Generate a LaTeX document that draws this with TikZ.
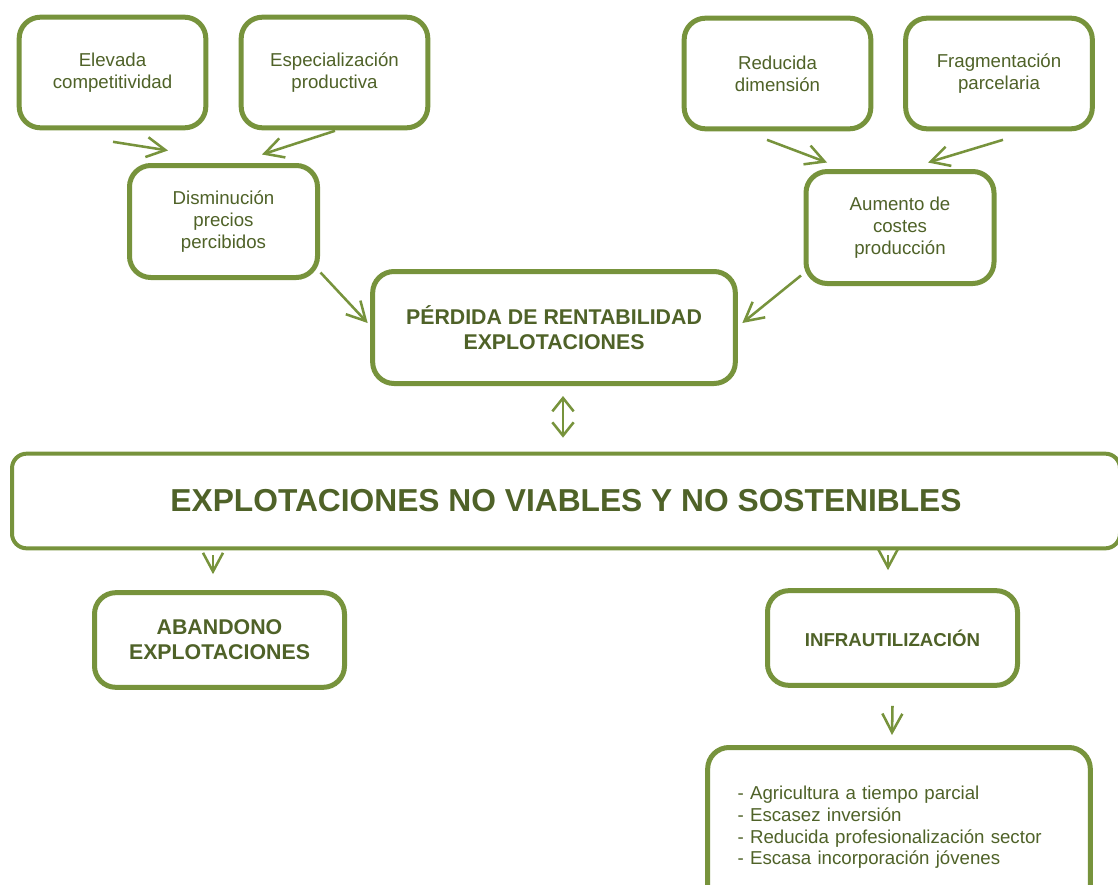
\documentclass[tikz,border=0pt]{standalone}
\usepackage{fontspec}
\setmainfont{Liberation Sans}
\usetikzlibrary{arrows.meta}
\usetikzlibrary{calc}

\definecolor{oliveline}{HTML}{77933C}
\definecolor{olivetext}{HTML}{4F6228}

\begin{document}
\begin{tikzpicture}[x=0.75pt, y=-0.75pt]
    \tikzstyle{box}=[draw=oliveline, line width=3.75pt, rounded corners=16pt, fill=white,
      text=olivetext, align=center, inner sep=2pt]
    \tikzstyle{small}=[box, minimum width=140pt, minimum height=83pt, font=\fontsize{14}{16.5}\selectfont,
      execute at begin node={\rule{0pt}{15pt}}]
    \tikzstyle{big}=[box, font=\fontsize{16}{18.75}\selectfont\bfseries]
    \tikzstyle{arr}=[draw=oliveline, line width=1.9pt, -{Straight Barb[length=14pt, width=15pt]}]
    \useasboundingbox (0,0) rectangle (1118,885);
    % causes
    \node[small] (elev) at (112.5,72.5) {Elevada\\competitividad};
    \node[small] (espec) at (334.5,72.5) {Especialización\\productiva};
    \node[small] (reduc) at (777.5,73.5) {Reducida\\dimensión};
    \node[small] (frag) at (999,73.5) {Fragmentación\\parcelaria};
    \node[small, minimum height=84pt, minimum width=141pt] (dismin) at (223.5,221.5) {Disminución\\precios\\percibidos};
    \node[small, minimum height=84pt, minimum width=141pt] (aumento) at (900,227.5) {Aumento de\\costes\\producción};
    \node[big, minimum width=272pt, minimum height=84pt] (perdida) at (554,327.5) {PÉRDIDA DE RENTABILIDAD\\EXPLOTACIONES};
    % central box
    \node[box, line width=3pt, rounded corners=11pt, minimum width=831pt, minimum height=71pt,
      font=\fontsize{23.8}{28}\selectfont\bfseries] (noviable) at (566,501) {EXPLOTACIONES NO VIABLES Y NO SOSTENIBLES};
    % effects
    \node[big, minimum width=187.5pt, minimum height=71pt] (aband) at (219.5,640) {ABANDONO\\EXPLOTACIONES};
    \node[big, minimum width=187.5pt, minimum height=71pt, font=\fontsize{14}{16.5}\selectfont\bfseries] (infra) at (892.5,638) {INFRAUTILIZACIÓN};
    \node[box, minimum width=287pt, minimum height=120pt, text width=242pt, align=left,
      font=\fontsize{14}{16.3}\selectfont] (lista) at (899,827.5)
      {- Agricultura a tiempo parcial\\- Escasez inversión\\- Reducida profesionalización sector\\- Escasa incorporación jóvenes};
    % arrows
    \draw[arr] ($(elev.south)+(0.5,11.5)$) -- ($(dismin.north)+(-55.5,-12.5)$);
    \draw[arr] ($(espec.south)+(0.5,0.5)$) -- ($(dismin.north)+(38.5,-8.5)$);
    \draw[arr] ($(reduc.south)+(-10.5,8.5)$) -- ($(aumento.north)+(-73,-6.5)$);
    \draw[arr] ($(frag.south)+(4,8.5)$) -- ($(aumento.north)+(28,-6.5)$);
    \draw[arr] ($(dismin.south east)+(0.5,-7.5)$) -- ($(perdida.west)+(-2.5,-4.5)$);
    \draw[arr] ($(aumento.south west)+(-2.5,-10.5)$) -- ($(perdida.east)+(4.5,-4.5)$);
    \draw[arr, {Straight Barb[length=10pt, width=16pt]}-{Straight Barb[length=10pt, width=16pt]}]
      ($(perdida.south)+(9,10)$) -- ($(noviable.north)+(-3,-14)$);
    \draw[arr] ($(noviable.south -| aband.north)+(-6.5,5)$) -- ($(aband.north)+(-6.5,-16)$);
    \draw[arr] ($(noviable.south -| infra.north)+(-4.5,5)$) -- ($(infra.north)+(-4.5,-18)$);
    \draw[arr] ($(infra.south)+(0,18)$) -- ($(lista.north)+(-7,-10)$);
\end{tikzpicture}
\end{document}
